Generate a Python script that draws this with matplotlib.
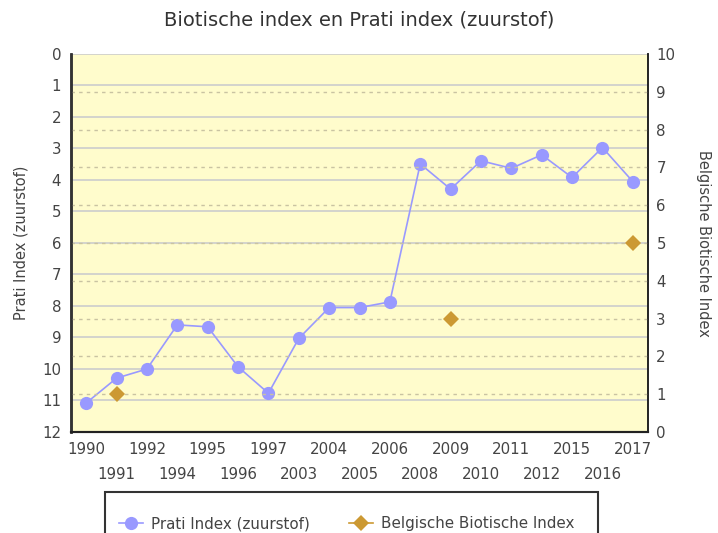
import numpy as np
import matplotlib.pyplot as plt
from matplotlib.patches import Rectangle

plt.rcParams['font.family'] = ['DejaVu Sans']

years = ['1990', '1991', '1992', '1994', '1995', '1996', '1997', '2003', '2004', '2005',
         '2006', '2008', '2009', '2010', '2011', '2012', '2015', '2016', '2017']
prati = [11.08, 10.29, 10.0, 8.6, 8.66, 9.93, 10.77, 9.03, 8.05, 8.05,
         7.87, 3.49, 4.29, 3.39, 3.63, 3.2, 3.92, 2.97, 4.05]
bbi = [np.nan, 1, np.nan, np.nan, np.nan, np.nan, np.nan, np.nan, np.nan, np.nan,
       np.nan, np.nan, 3, np.nan, np.nan, np.nan, np.nan, np.nan, 5]

text_col = '#444444'
x = np.arange(len(years))

fig = plt.figure(figsize=(7.18, 5.33), dpi=100)
ax = fig.add_axes([0.0989, 0.1895, 0.8036, 0.7092])
ax2 = ax.twinx()

ax.set_facecolor('#fffccc')
ax.set_xlim(-0.5, len(years) - 0.5)
ax.set_ylim(12, 0)
ax.set_yticks(range(0, 13))
ax2.set_ylim(0, 10)
ax2.set_yticks(range(0, 11))

# gridlines: solid for left axis, dashed for right axis
for v in range(0, 12):
    ax.axhline(v, color='#cccccc', lw=1.2, zorder=1)
for v in range(1, 10):
    ax2.axhline(v, color='#c9c3a2', lw=1, ls=(0, (2.5, 3)), zorder=1)

# staggered year labels: even on top row (major), odd on second row (minor)
ax.set_xticks(x[::2])
ax.set_xticklabels(years[::2], fontsize=10.8, color=text_col)
ax.set_xticks(x[1::2], minor=True)
ax.set_xticklabels(years[1::2], minor=True, fontsize=10.8, color=text_col)
ax.tick_params(axis='x', which='major', length=0, pad=7)
ax.tick_params(axis='x', which='minor', length=0, pad=25)
ax.tick_params(axis='y', length=0, labelsize=10.8, labelcolor=text_col, pad=7)
ax2.tick_params(axis='y', length=0, labelsize=10.8, labelcolor=text_col, pad=6)

for a in (ax, ax2):
    a.spines['top'].set_visible(False)
    a.spines['left'].set_color('#333333')
    a.spines['left'].set_linewidth(1.8)
    a.spines['right'].set_color('#222222')
    a.spines['right'].set_linewidth(1.2)
    a.spines['bottom'].set_color('#222222')
    a.spines['bottom'].set_linewidth(1.5)

l1, = ax.plot(x, prati, color='#9999ff', lw=1.2, marker='o', ms=9.5,
              markeredgewidth=0, label='Prati Index (zuurstof)', zorder=5)
l2, = ax2.plot(x, bbi, color='#cc9933', lw=1.2, marker='D', ms=8.5,
               markeredgewidth=0, label='Belgische Biotische Index', zorder=5)

ax.set_ylabel('Prati Index (zuurstof)', fontsize=10.5, color=text_col, labelpad=10)
ax2.set_ylabel('Belgische Biotische Index', fontsize=10.5, color=text_col,
               rotation=270, labelpad=26)
fig.suptitle('Biotische index en Prati index (zuurstof)', fontsize=14,
             color='#333333', y=0.98)

# legend box runs off the bottom edge like in the original
fig.patches.append(Rectangle((0.1462, -0.05), 0.6866, 0.1269, transform=fig.transFigure,
                             facecolor='white', edgecolor='#333333', lw=1.5))
leg = fig.legend(handles=[l1, l2], loc='center', bbox_to_anchor=(0.483, 0.017),
                 ncol=2, frameon=False, fontsize=10.9,
                 handlelength=1.6, handletextpad=0.5, columnspacing=2.6,
                 borderpad=0, borderaxespad=0)
for t in leg.get_texts():
    t.set_color(text_col)

fig.savefig('out.png', dpi=100)
